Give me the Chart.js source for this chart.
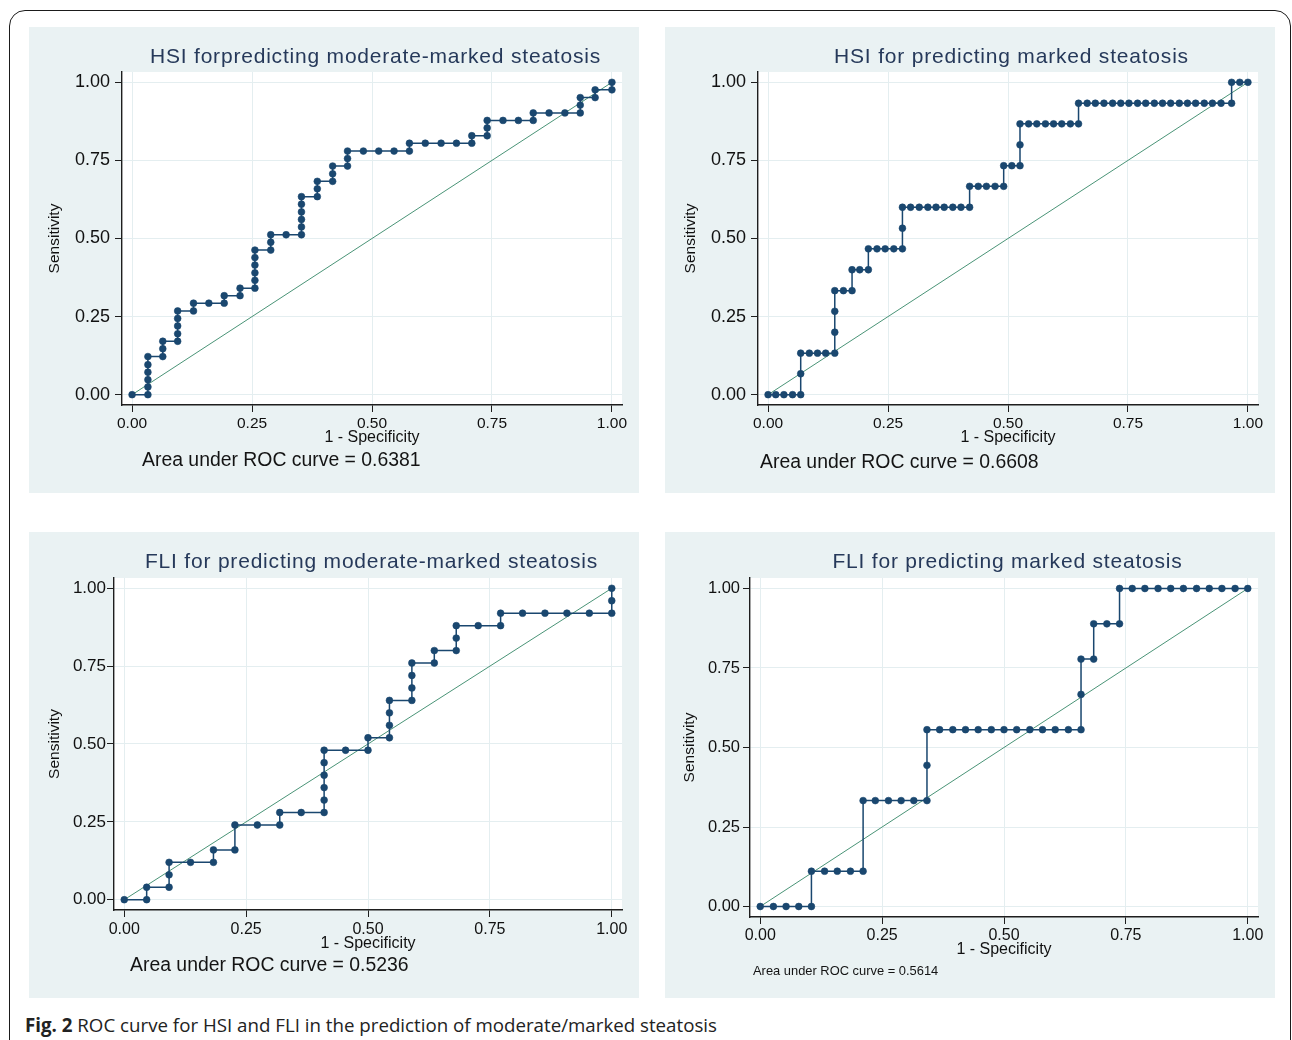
<!DOCTYPE html>
<html>
<head>
<meta charset="utf-8">
<script src="https://cdn.jsdelivr.net/npm/chart.js@4.4.1/dist/chart.umd.min.js"></script>
<style>
  html, body { margin:0; padding:0; background:#ffffff; width:1292px; height:1040px; overflow:hidden; }
  body { position:relative; }
  #frame { position:absolute; left:9px; top:10px; width:1282px; height:1100px; border:1.5px solid #1b1b1b; border-radius:16px; box-sizing:border-box; }
  .panel { position:absolute; width:610px; height:466px; background:#eaf2f3; }
  .panel canvas { display:block; }
  #caption { position:absolute; left:25px; top:1011px; font-family:"Open Sans", sans-serif; font-size:19px; line-height:28px; color:#222; white-space:nowrap; transform-origin:0 50%; }
  #caption b { font-weight:700; }
</style>
</head>
<body>
<div id="frame"></div>
<div class="panel" style="left:29px;top:27px"><canvas id="c1" width="610" height="466"></canvas></div>
<div class="panel" style="left:665px;top:27px"><canvas id="c2" width="610" height="466"></canvas></div>
<div class="panel" style="left:29px;top:532px"><canvas id="c3" width="610" height="466"></canvas></div>
<div class="panel" style="left:665px;top:532px"><canvas id="c4" width="610" height="466"></canvas></div>
<div id="caption"><b>Fig. 2</b> ROC curve for HSI and FLI in the prediction of moderate/marked steatosis</div>

<script>
// ---------------- DATA ----------------
const tickValues = [0, 0.25, 0.5, 0.75, 1];
const tickLabels = ['0.00', '0.25', '0.50', '0.75', '1.00'];
const refX = [0, 1];
const refY = [0, 1];

const panelTitles = [
  'HSI forpredicting moderate-marked steatosis',
  'HSI for predicting marked steatosis',
  'FLI for predicting moderate-marked steatosis',
  'FLI for predicting marked steatosis'
];
const aucNotes = [
  'Area under ROC curve = 0.6381',
  'Area under ROC curve = 0.6608',
  'Area under ROC curve = 0.5236',
  'Area under ROC curve = 0.5614'
];
const xAxisTitle = '1 - Specificity';
const yAxisTitle = 'Sensitivity';

// HSI, moderate-marked steatosis
const hsiModFpr = [0,0.033,0.033,0.033,0.033,0.033,0.033,0.064,0.064,0.064,0.095,0.095,0.095,0.095,0.095,0.128,0.128,0.160,0.192,0.192,0.225,0.225,0.256,0.256,0.256,0.256,0.256,0.256,0.289,0.289,0.289,0.321,0.353,0.353,0.353,0.353,0.353,0.353,0.386,0.386,0.386,0.418,0.418,0.418,0.449,0.449,0.449,0.482,0.514,0.546,0.578,0.578,0.611,0.644,0.676,0.708,0.708,0.740,0.740,0.740,0.773,0.805,0.836,0.836,0.869,0.902,0.934,0.934,0.934,0.965,0.965,1.0,1.0];
const hsiModSens = [0,0,0.025,0.048,0.072,0.096,0.122,0.122,0.147,0.171,0.171,0.195,0.220,0.244,0.268,0.268,0.293,0.293,0.293,0.317,0.317,0.341,0.341,0.366,0.390,0.415,0.439,0.463,0.463,0.488,0.512,0.512,0.512,0.537,0.561,0.585,0.610,0.634,0.634,0.659,0.683,0.683,0.707,0.732,0.732,0.756,0.780,0.780,0.780,0.780,0.780,0.805,0.805,0.805,0.805,0.805,0.829,0.829,0.854,0.878,0.878,0.878,0.878,0.902,0.902,0.902,0.902,0.927,0.951,0.951,0.976,0.976,1.0];

// HSI, marked steatosis
const hsiMarkFpr = [0,0.016,0.033,0.051,0.068,0.068,0.068,0.086,0.103,0.120,0.139,0.139,0.139,0.139,0.157,0.175,0.175,0.191,0.209,0.209,0.227,0.244,0.262,0.280,0.280,0.280,0.297,0.315,0.333,0.350,0.367,0.385,0.402,0.420,0.420,0.438,0.455,0.473,0.491,0.491,0.508,0.525,0.525,0.525,0.543,0.560,0.578,0.595,0.612,0.630,0.647,0.647,0.665,0.682,0.700,0.718,0.735,0.752,0.770,0.787,0.805,0.822,0.839,0.857,0.874,0.891,0.909,0.926,0.944,0.966,0.966,0.983,1.0];
const hsiMarkSens = [0,0,0,0,0,
  0.067,
  0.133,0.133,0.133,0.133,0.133,
  0.2,0.267,
  0.333,0.333,0.333,
  0.4,0.4,0.4,
  0.467,0.467,0.467,0.467,0.467,
  0.533,
  0.6,0.6,0.6,0.6,0.6,0.6,0.6,0.6,0.6,
  0.667,0.667,0.667,0.667,0.667,
  0.733,0.733,0.733,
  0.8,
  0.867,0.867,0.867,0.867,0.867,0.867,0.867,0.867,
  0.933,0.933,0.933,0.933,0.933,0.933,0.933,0.933,0.933,0.933,0.933,0.933,0.933,0.933,0.933,0.933,0.933,0.933,0.933,
  1,1,1];

// FLI, moderate-marked steatosis
const fliModFpr = [0,0.046,0.046,0.092,0.092,0.092,0.136,0.183,0.183,0.227,0.227,0.273,0.319,0.319,0.363,0.410,0.410,0.410,0.410,0.410,0.410,0.454,0.5,0.5,0.544,0.544,0.544,0.544,0.590,0.590,0.590,0.590,0.636,0.636,0.681,0.681,0.681,0.726,0.772,0.772,0.817,0.863,0.908,0.954,1.0,1.0,1.0];
const fliModSens = [0,0,0.04,0.04,0.08,0.12,0.12,0.12,0.16,0.16,0.24,0.24,0.24,0.28,0.28,0.28,0.32,0.36,0.40,0.44,0.48,0.48,0.48,0.52,0.52,0.56,0.60,0.64,0.64,0.68,0.72,0.76,0.76,0.80,0.80,0.84,0.88,0.88,0.88,0.92,0.92,0.92,0.92,0.92,0.92,0.96,1.0];

// FLI, marked steatosis
const fliMarkFpr = [0,0.027,0.053,0.079,0.105,0.105,0.132,0.158,0.185,0.211,0.211,0.236,0.263,0.289,0.315,0.342,0.342,0.342,0.368,0.395,0.421,0.447,0.474,0.5,0.526,0.553,0.579,0.605,0.632,0.658,0.658,0.658,0.684,0.684,0.711,0.737,0.737,0.763,0.789,0.816,0.842,0.868,0.895,0.921,0.947,0.974,1.0];
const fliMarkSens = [0,0,0,0,0,0.111,0.111,0.111,0.111,0.111,0.333,0.333,0.333,0.333,0.333,0.333,0.444,0.556,0.556,0.556,0.556,0.556,0.556,0.556,0.556,0.556,0.556,0.556,0.556,0.556,0.667,0.778,0.778,0.889,0.889,0.889,1,1,1,1,1,1,1,1,1,1,1];

// ---------------- STYLE / LAYOUT ----------------
const FONT = '"Liberation Sans", Arial, Helvetica, sans-serif';
Chart.defaults.font.family = FONT;

const NAVY = '#1a476f';
const REFGREEN = '#4a9477';
const GRID = '#e4eef0';
const AXIS = '#1e1e1e';

// chart area in canvas coords: L, T, R, B; plus text placement
const layouts = [
  { L:93, T:45, R:593, B:378, yTick:18,  xTick:15.5, yPad:5, xPad:2, xTitleY:411, yTitleX:26, noteX:113, noteY:434, noteSize:19.4 },
  { L:93, T:45, R:593, B:378, yTick:18,  xTick:15.5, yPad:5, xPad:2, xTitleY:411, yTitleX:26, noteX:95,  noteY:436, noteSize:19.4 },
  { L:85, T:46, R:593, B:378, yTick:17,  xTick:16,   yPad:1, xPad:3, xTitleY:412, yTitleX:26, noteX:101, noteY:434, noteSize:19.4 },
  { L:85, T:46, R:593, B:385, yTick:16.5,xTick:16,   yPad:3, xPad:2, xTitleY:418, yTitleX:25, noteX:88,  noteY:439, noteSize:12.9 }
];

const plotBg = {
  id: 'plotBg',
  beforeDraw(chart) {
    const { ctx, chartArea: a } = chart;
    ctx.save();
    ctx.fillStyle = '#ffffff';
    ctx.fillRect(a.left, a.top, a.right - a.left, a.bottom - a.top);
    ctx.restore();
  }
};

const panelText = {
  id: 'panelText',
  afterDraw(chart, args, o) {
    const { ctx, chartArea: a } = chart;
    ctx.save();
    ctx.fillStyle = '#26395a';
    ctx.font = '21px ' + FONT;
    if ('letterSpacing' in ctx) ctx.letterSpacing = '0.8px';
    ctx.textAlign = 'center';
    ctx.textBaseline = 'middle';
    ctx.fillText(o.title, (a.left + a.right) / 2 + 3.5, 30);
    if ('letterSpacing' in ctx) ctx.letterSpacing = '0px';
    ctx.fillStyle = '#141414';
    ctx.font = o.noteSize + 'px ' + FONT;
    ctx.textAlign = 'left';
    ctx.fillText(o.note, o.noteX, o.noteY);
    ctx.restore();
  }
};

function makeChart(id, fpr, sens, idx) {
  const g = layouts[idx];
  const rocPts = fpr.map((x, i) => ({ x: x, y: sens[i] }));
  const refPts = refX.map((x, i) => ({ x: x, y: refY[i] }));
  const xTitleLH = 16 * 1.2;
  const yTitleLH = 15.5 * 1.2;
  return new Chart(document.getElementById(id), {
    type: 'scatter',
    data: {
      datasets: [
        {
          data: rocPts, showLine: true, borderColor: NAVY, borderWidth: 1.5,
          pointRadius: 3.4, pointBackgroundColor: NAVY, pointBorderColor: NAVY, pointBorderWidth: 0.6,
          pointStyle: 'circle', tension: 0
        },
        {
          data: refPts, showLine: true, borderColor: REFGREEN, borderWidth: 1, pointRadius: 0
        }
      ]
    },
    options: {
      responsive: false,
      animation: false,
      devicePixelRatio: 1,
      layout: { padding: { left: 0, top: g.T, right: 610 - g.R, bottom: 0 } },
      plugins: {
        legend: { display: false },
        tooltip: { enabled: false },
        panelText: { title: panelTitles[idx], note: aucNotes[idx], noteX: g.noteX, noteY: g.noteY, noteSize: g.noteSize }
      },
      scales: {
        x: {
          type: 'linear', min: -0.021, max: 1.021,
          afterBuildTicks: s => { s.ticks = tickValues.map(v => ({ value: v })); },
          afterFit: s => { s.height = 466 - g.B; },
          ticks: { callback: (v, i) => tickLabels[i], font: { size: g.xTick }, color: '#111', padding: g.xPad, maxRotation: 0, autoSkip: false },
          grid: { color: GRID, lineWidth: 1, tickColor: AXIS, tickLength: 7, drawTicks: true },
          border: { color: AXIS, width: 1.4 },
          title: { display: true, text: xAxisTitle, font: { size: 16 }, color: '#111',
                   padding: { top: 0, bottom: 466 - g.xTitleY - xTitleLH / 2 } }
        },
        y: {
          type: 'linear', min: -0.033, max: 1.033,
          afterBuildTicks: s => { s.ticks = tickValues.map(v => ({ value: v })); },
          afterFit: s => { s.width = g.L; },
          ticks: { callback: (v, i) => tickLabels[i], font: { size: g.yTick }, color: '#111', padding: g.yPad, autoSkip: false },
          grid: { color: GRID, lineWidth: 1, tickColor: AXIS, tickLength: 7, drawTicks: true },
          border: { color: AXIS, width: 1.4 },
          title: { display: true, text: yAxisTitle, font: { size: 15.5 }, color: '#111',
                   padding: { top: g.yTitleX - yTitleLH / 2, bottom: 0 } }
        }
      }
    },
    plugins: [plotBg, panelText]
  });
}

makeChart('c1', hsiModFpr, hsiModSens, 0);
makeChart('c2', hsiMarkFpr, hsiMarkSens, 1);
makeChart('c3', fliModFpr, fliModSens, 2);
makeChart('c4', fliMarkFpr, fliMarkSens, 3);

// fit caption width to the reference line length
const cap = document.getElementById('caption');
const w = cap.getBoundingClientRect().width;
if (w > 0) cap.style.transform = 'scaleX(' + (692 / w) + ')';
</script>
</body>
</html>
